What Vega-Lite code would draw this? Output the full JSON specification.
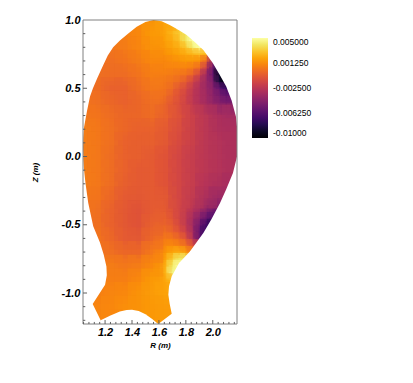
{"$schema":"https://vega.github.io/schema/vega-lite/v6.json","width":154,"height":304,"autosize":{"type":"none"},"padding":{"left":83,"top":20,"right":176,"bottom":59},"background":"white","config":{"view":{"stroke":null}},
"datasets":{
"coarse":[
{"r":1.45,"z":1.0,"v":0.0011},{"r":1.55,"z":1.0,"v":0.0014},{"r":1.65,"z":1.0,"v":0.002},
{"r":1.35,"z":0.9,"v":0.0008},{"r":1.45,"z":0.9,"v":0.0011},{"r":1.55,"z":0.9,"v":0.0016},
{"r":1.25,"z":0.8,"v":0.0005},{"r":1.35,"z":0.8,"v":0.0007},{"r":1.45,"z":0.8,"v":0.001},{"r":1.55,"z":0.8,"v":0.0014},
{"r":1.15,"z":0.7,"v":0.0004},{"r":1.25,"z":0.7,"v":0.0002},{"r":1.35,"z":0.7,"v":0.0004},{"r":1.45,"z":0.7,"v":0.0007},{"r":1.55,"z":0.7,"v":0.0011},
{"r":1.15,"z":0.6,"v":0.0002},{"r":1.25,"z":0.6,"v":0.0001},{"r":1.35,"z":0.6,"v":0.0001},{"r":1.45,"z":0.6,"v":0.0004},{"r":1.55,"z":0.6,"v":0.0008},
{"r":1.05,"z":0.5,"v":0.0002},{"r":1.15,"z":0.5,"v":0.0001},{"r":1.25,"z":0.5,"v":-0.0003},{"r":1.35,"z":0.5,"v":-0.0003},{"r":1.45,"z":0.5,"v":0.0001},{"r":1.55,"z":0.5,"v":0.0005},
{"r":1.05,"z":0.4,"v":0.0004},{"r":1.15,"z":0.4,"v":0.0002},{"r":1.25,"z":0.4,"v":-0.0001},{"r":1.35,"z":0.4,"v":-0.0003},{"r":1.45,"z":0.4,"v":-0.0001},{"r":1.55,"z":0.4,"v":0.0002},
{"r":1.05,"z":0.3,"v":0.0005},{"r":1.15,"z":0.3,"v":0.0004},{"r":1.25,"z":0.3,"v":0.0001},{"r":1.35,"z":0.3,"v":-0.0001},{"r":1.45,"z":0.3,"v":-0.0001},{"r":1.55,"z":0.3,"v":0.0001},{"r":1.65,"z":0.3,"v":-0.0003},{"r":1.75,"z":0.3,"v":-0.001},{"r":1.85,"z":0.3,"v":-0.0018},{"r":1.95,"z":0.3,"v":-0.0025},{"r":2.05,"z":0.3,"v":-0.0031},{"r":2.15,"z":0.3,"v":-0.0034},
{"r":1.05,"z":0.2,"v":0.0007},{"r":1.15,"z":0.2,"v":0.0005},{"r":1.25,"z":0.2,"v":0.0002},{"r":1.35,"z":0.2,"v":-0.0001},{"r":1.45,"z":0.2,"v":-0.0003},{"r":1.55,"z":0.2,"v":-0.0003},{"r":1.65,"z":0.2,"v":-0.0006},{"r":1.75,"z":0.2,"v":-0.0012},{"r":1.85,"z":0.2,"v":-0.0019},{"r":1.95,"z":0.2,"v":-0.0025},{"r":2.05,"z":0.2,"v":-0.003},{"r":2.15,"z":0.2,"v":-0.0031},
{"r":1.05,"z":0.1,"v":0.0007},{"r":1.15,"z":0.1,"v":0.0005},{"r":1.25,"z":0.1,"v":0.0002},{"r":1.35,"z":0.1,"v":-0.0003},{"r":1.45,"z":0.1,"v":-0.0004},{"r":1.55,"z":0.1,"v":-0.0004},{"r":1.65,"z":0.1,"v":-0.0007},{"r":1.75,"z":0.1,"v":-0.0013},{"r":1.85,"z":0.1,"v":-0.0019},{"r":1.95,"z":0.1,"v":-0.0025},{"r":2.05,"z":0.1,"v":-0.0028},{"r":2.15,"z":0.1,"v":-0.003},
{"r":1.05,"z":0.0,"v":0.0007},{"r":1.15,"z":0.0,"v":0.0005},{"r":1.25,"z":0.0,"v":0.0001},{"r":1.35,"z":0.0,"v":-0.0003},{"r":1.45,"z":0.0,"v":-0.0004},{"r":1.55,"z":0.0,"v":-0.0006},{"r":1.65,"z":0.0,"v":-0.0009},{"r":1.75,"z":0.0,"v":-0.0015},{"r":1.85,"z":0.0,"v":-0.0021},{"r":1.95,"z":0.0,"v":-0.0025},{"r":2.05,"z":0.0,"v":-0.0028},{"r":2.15,"z":0.0,"v":-0.003},
{"r":1.05,"z":-0.1,"v":0.0007},{"r":1.15,"z":-0.1,"v":0.0005},{"r":1.25,"z":-0.1,"v":0.0001},{"r":1.35,"z":-0.1,"v":-0.0003},{"r":1.45,"z":-0.1,"v":-0.0006},{"r":1.55,"z":-0.1,"v":-0.0006},{"r":1.65,"z":-0.1,"v":-0.0009},{"r":1.75,"z":-0.1,"v":-0.0015},{"r":1.85,"z":-0.1,"v":-0.0021},{"r":1.95,"z":-0.1,"v":-0.0025},{"r":2.05,"z":-0.1,"v":-0.0028},{"r":2.15,"z":-0.1,"v":-0.003},
{"r":1.05,"z":-0.2,"v":0.0007},{"r":1.15,"z":-0.2,"v":0.0005},{"r":1.25,"z":-0.2,"v":0.0001},{"r":1.35,"z":-0.2,"v":-0.0004},{"r":1.45,"z":-0.2,"v":-0.0006},{"r":1.55,"z":-0.2,"v":-0.0006},{"r":1.65,"z":-0.2,"v":-0.0009},{"r":1.75,"z":-0.2,"v":-0.0015},{"r":1.85,"z":-0.2,"v":-0.0021},{"r":1.95,"z":-0.2,"v":-0.0027},{"r":2.05,"z":-0.2,"v":-0.003},{"r":2.15,"z":-0.2,"v":-0.0033},
{"r":1.05,"z":-0.3,"v":0.0005},{"r":1.15,"z":-0.3,"v":0.0004},{"r":1.25,"z":-0.3,"v":-0.0001},{"r":1.35,"z":-0.3,"v":-0.0006},{"r":1.45,"z":-0.3,"v":-0.0007},{"r":1.55,"z":-0.3,"v":-0.0006},{"r":1.65,"z":-0.3,"v":-0.0007},{"r":1.75,"z":-0.3,"v":-0.0015},{"r":1.85,"z":-0.3,"v":-0.0022},{"r":1.95,"z":-0.3,"v":-0.003},{"r":2.05,"z":-0.3,"v":-0.0036},
{"r":1.05,"z":-0.4,"v":0.0005},{"r":1.15,"z":-0.4,"v":0.0002},{"r":1.25,"z":-0.4,"v":-0.0003},{"r":1.35,"z":-0.4,"v":-0.0007},{"r":1.45,"z":-0.4,"v":-0.0009},{"r":1.55,"z":-0.4,"v":-0.0006},
{"r":1.15,"z":-0.5,"v":0.0002},{"r":1.25,"z":-0.5,"v":-0.0003},{"r":1.35,"z":-0.5,"v":-0.0007},{"r":1.45,"z":-0.5,"v":-0.0009},{"r":1.55,"z":-0.5,"v":-0.0004},
{"r":1.15,"z":-0.6,"v":0.0004},{"r":1.25,"z":-0.6,"v":-0.0001},{"r":1.35,"z":-0.6,"v":-0.0006},{"r":1.45,"z":-0.6,"v":-0.0007},{"r":1.55,"z":-0.6,"v":-0.0001},
{"r":1.15,"z":-0.7,"v":0.0005},{"r":1.25,"z":-0.7,"v":0.0002},{"r":1.35,"z":-0.7,"v":-0.0001},{"r":1.45,"z":-0.7,"v":-0.0001},{"r":1.55,"z":-0.7,"v":0.0005},
{"r":1.25,"z":-0.8,"v":0.0007},{"r":1.35,"z":-0.8,"v":0.0005},{"r":1.45,"z":-0.8,"v":0.0007},{"r":1.55,"z":-0.8,"v":0.0011},
{"r":1.25,"z":-0.9,"v":0.0008},{"r":1.35,"z":-0.9,"v":0.0008},{"r":1.45,"z":-0.9,"v":0.0011},{"r":1.55,"z":-0.9,"v":0.0016},
{"r":1.15,"z":-1.0,"v":0.0008},{"r":1.25,"z":-1.0,"v":0.001},{"r":1.35,"z":-1.0,"v":0.0011},{"r":1.45,"z":-1.0,"v":0.0014},{"r":1.55,"z":-1.0,"v":0.0017},{"r":1.65,"z":-1.0,"v":0.0019},
{"r":1.15,"z":-1.1,"v":0.001},{"r":1.25,"z":-1.1,"v":0.0011},{"r":1.35,"z":-1.1,"v":0.0013},{"r":1.45,"z":-1.1,"v":0.0014},{"r":1.55,"z":-1.1,"v":0.0016},{"r":1.65,"z":-1.1,"v":0.0017},
{"r":1.15,"z":-1.2,"v":0.001},{"r":1.25,"z":-1.2,"v":0.0011},{"r":1.55,"z":-1.2,"v":0.0016},{"r":1.65,"z":-1.2,"v":0.0017}
],
"fine":[
{"r":1.6,"z":0.95,"v":0.0017},{"r":1.65,"z":0.95,"v":0.002},{"r":1.7,"z":0.95,"v":0.0023},
{"r":1.6,"z":0.9,"v":0.0017},{"r":1.65,"z":0.9,"v":0.002},{"r":1.7,"z":0.9,"v":0.0025},{"r":1.75,"z":0.9,"v":0.0031},{"r":1.8,"z":0.9,"v":0.004},
{"r":1.6,"z":0.85,"v":0.0016},{"r":1.65,"z":0.85,"v":0.0019},{"r":1.7,"z":0.85,"v":0.0022},{"r":1.75,"z":0.85,"v":0.0028},{"r":1.8,"z":0.85,"v":0.004},{"r":1.85,"z":0.85,"v":0.005},{"r":1.9,"z":0.85,"v":0.005},
{"r":1.6,"z":0.8,"v":0.0014},{"r":1.65,"z":0.8,"v":0.0017},{"r":1.7,"z":0.8,"v":0.002},{"r":1.75,"z":0.8,"v":0.0023},{"r":1.8,"z":0.8,"v":0.003},{"r":1.85,"z":0.8,"v":0.0042},{"r":1.9,"z":0.8,"v":0.005},{"r":1.95,"z":0.8,"v":0.005},
{"r":1.6,"z":0.75,"v":0.0013},{"r":1.65,"z":0.75,"v":0.0014},{"r":1.7,"z":0.75,"v":0.0016},{"r":1.75,"z":0.75,"v":0.0019},{"r":1.8,"z":0.75,"v":0.0022},{"r":1.85,"z":0.75,"v":0.0025},{"r":1.9,"z":0.75,"v":0.0028},{"r":1.95,"z":0.75,"v":0.0025},{"r":2.0,"z":0.75,"v":-0.001},
{"r":1.6,"z":0.7,"v":0.0011},{"r":1.65,"z":0.7,"v":0.0011},{"r":1.7,"z":0.7,"v":0.0013},{"r":1.75,"z":0.7,"v":0.0014},{"r":1.8,"z":0.7,"v":0.0016},{"r":1.85,"z":0.7,"v":0.0016},{"r":1.9,"z":0.7,"v":0.0014},{"r":1.95,"z":0.7,"v":0.0002},{"r":2.0,"z":0.7,"v":-0.0033},{"r":2.05,"z":0.7,"v":-0.0055},
{"r":1.6,"z":0.65,"v":0.001},{"r":1.65,"z":0.65,"v":0.001},{"r":1.7,"z":0.65,"v":0.001},{"r":1.75,"z":0.65,"v":0.001},{"r":1.8,"z":0.65,"v":0.001},{"r":1.85,"z":0.65,"v":0.0008},{"r":1.9,"z":0.65,"v":0.0002},{"r":1.95,"z":0.65,"v":-0.0016},{"r":2.0,"z":0.65,"v":-0.0052},{"r":2.05,"z":0.65,"v":-0.0082},
{"r":1.6,"z":0.6,"v":0.0008},{"r":1.65,"z":0.6,"v":0.0008},{"r":1.7,"z":0.6,"v":0.0007},{"r":1.75,"z":0.6,"v":0.0005},{"r":1.8,"z":0.6,"v":0.0004},{"r":1.85,"z":0.6,"v":-0.0001},{"r":1.9,"z":0.6,"v":-0.0013},{"r":1.95,"z":0.6,"v":-0.0033},{"r":2.0,"z":0.6,"v":-0.0055},{"r":2.05,"z":0.6,"v":-0.0091},{"r":2.1,"z":0.6,"v":-0.01},
{"r":1.6,"z":0.55,"v":0.0007},{"r":1.65,"z":0.55,"v":0.0005},{"r":1.7,"z":0.55,"v":0.0004},{"r":1.75,"z":0.55,"v":0.0001},{"r":1.8,"z":0.55,"v":-0.0004},{"r":1.85,"z":0.55,"v":-0.0013},{"r":1.9,"z":0.55,"v":-0.0025},{"r":1.95,"z":0.55,"v":-0.0036},{"r":2.0,"z":0.55,"v":-0.0048},{"r":2.05,"z":0.55,"v":-0.0085},{"r":2.1,"z":0.55,"v":-0.01},
{"r":1.6,"z":0.5,"v":0.0005},{"r":1.65,"z":0.5,"v":0.0004},{"r":1.7,"z":0.5,"v":0.0001},{"r":1.75,"z":0.5,"v":-0.0006},{"r":1.8,"z":0.5,"v":-0.0012},{"r":1.85,"z":0.5,"v":-0.0021},{"r":1.9,"z":0.5,"v":-0.0029},{"r":1.95,"z":0.5,"v":-0.0036},{"r":2.0,"z":0.5,"v":-0.0044},{"r":2.05,"z":0.5,"v":-0.0058},{"r":2.1,"z":0.5,"v":-0.0073},{"r":2.15,"z":0.5,"v":-0.0073},
{"r":1.6,"z":0.45,"v":0.0004},{"r":1.65,"z":0.45,"v":0.0002},{"r":1.7,"z":0.45,"v":-0.0003},{"r":1.75,"z":0.45,"v":-0.0009},{"r":1.8,"z":0.45,"v":-0.0015},{"r":1.85,"z":0.45,"v":-0.0023},{"r":1.9,"z":0.45,"v":-0.0029},{"r":1.95,"z":0.45,"v":-0.0034},{"r":2.0,"z":0.45,"v":-0.0042},{"r":2.05,"z":0.45,"v":-0.005},{"r":2.1,"z":0.45,"v":-0.0058},{"r":2.15,"z":0.45,"v":-0.0058},
{"r":1.6,"z":0.4,"v":0.0002},{"r":1.65,"z":0.4,"v":-0.0001},{"r":1.7,"z":0.4,"v":-0.0006},{"r":1.75,"z":0.4,"v":-0.001},{"r":1.8,"z":0.4,"v":-0.0016},{"r":1.85,"z":0.4,"v":-0.0023},{"r":1.9,"z":0.4,"v":-0.0029},{"r":1.95,"z":0.4,"v":-0.0034},{"r":2.0,"z":0.4,"v":-0.004},{"r":2.05,"z":0.4,"v":-0.0046},{"r":2.1,"z":0.4,"v":-0.0051},{"r":2.15,"z":0.4,"v":-0.0051},
{"r":1.6,"z":0.35,"v":0.0001},{"r":1.65,"z":0.35,"v":-0.0003},{"r":1.7,"z":0.35,"v":-0.0007},{"r":1.75,"z":0.35,"v":-0.0012},{"r":1.8,"z":0.35,"v":-0.0016},{"r":1.85,"z":0.35,"v":-0.0022},{"r":1.9,"z":0.35,"v":-0.0028},{"r":1.95,"z":0.35,"v":-0.0032},{"r":2.0,"z":0.35,"v":-0.0037},{"r":2.05,"z":0.35,"v":-0.0041},{"r":2.1,"z":0.35,"v":-0.0043},{"r":2.15,"z":0.35,"v":-0.0043},
{"r":1.6,"z":-0.35,"v":-0.0006},{"r":1.65,"z":-0.35,"v":-0.0007},{"r":1.7,"z":-0.35,"v":-0.001},{"r":1.75,"z":-0.35,"v":-0.0015},{"r":1.8,"z":-0.35,"v":-0.0019},{"r":1.85,"z":-0.35,"v":-0.0024},{"r":1.9,"z":-0.35,"v":-0.003},{"r":1.95,"z":-0.35,"v":-0.0036},{"r":2.0,"z":-0.35,"v":-0.0043},{"r":2.05,"z":-0.35,"v":-0.0048},
{"r":1.6,"z":-0.4,"v":-0.0004},{"r":1.65,"z":-0.4,"v":-0.0006},{"r":1.7,"z":-0.4,"v":-0.001},{"r":1.75,"z":-0.4,"v":-0.0015},{"r":1.8,"z":-0.4,"v":-0.0021},{"r":1.85,"z":-0.4,"v":-0.0027},{"r":1.9,"z":-0.4,"v":-0.0034},{"r":1.95,"z":-0.4,"v":-0.0043},{"r":2.0,"z":-0.4,"v":-0.0052},{"r":2.05,"z":-0.4,"v":-0.0058},
{"r":1.6,"z":-0.45,"v":-0.0003},{"r":1.65,"z":-0.45,"v":-0.0004},{"r":1.7,"z":-0.45,"v":-0.0009},{"r":1.75,"z":-0.45,"v":-0.0015},{"r":1.8,"z":-0.45,"v":-0.0022},{"r":1.85,"z":-0.45,"v":-0.0031},{"r":1.9,"z":-0.45,"v":-0.0042},{"r":1.95,"z":-0.45,"v":-0.0054},{"r":2.0,"z":-0.45,"v":-0.0063},
{"r":1.6,"z":-0.5,"v":-0.0001},{"r":1.65,"z":-0.5,"v":-0.0003},{"r":1.7,"z":-0.5,"v":-0.0006},{"r":1.75,"z":-0.5,"v":-0.0013},{"r":1.8,"z":-0.5,"v":-0.0022},{"r":1.85,"z":-0.5,"v":-0.0034},{"r":1.9,"z":-0.5,"v":-0.0049},{"r":1.95,"z":-0.5,"v":-0.0067},{"r":2.0,"z":-0.5,"v":-0.0078},
{"r":1.6,"z":-0.55,"v":0.0001},{"r":1.65,"z":-0.55,"v":0.0001},{"r":1.7,"z":-0.55,"v":-0.0003},{"r":1.75,"z":-0.55,"v":-0.0009},{"r":1.8,"z":-0.55,"v":-0.0018},{"r":1.85,"z":-0.55,"v":-0.0031},{"r":1.9,"z":-0.55,"v":-0.0055},{"r":1.95,"z":-0.55,"v":-0.0073},
{"r":1.6,"z":-0.6,"v":0.0004},{"r":1.65,"z":-0.6,"v":0.0005},{"r":1.7,"z":-0.6,"v":0.0004},{"r":1.75,"z":-0.6,"v":-0.0001},{"r":1.8,"z":-0.6,"v":-0.001},{"r":1.85,"z":-0.6,"v":-0.0028},{"r":1.9,"z":-0.6,"v":-0.0055},{"r":1.95,"z":-0.6,"v":-0.007},
{"r":1.6,"z":-0.65,"v":0.0008},{"r":1.65,"z":-0.65,"v":0.001},{"r":1.7,"z":-0.65,"v":0.0011},{"r":1.75,"z":-0.65,"v":0.0008},{"r":1.8,"z":-0.65,"v":0.0002},{"r":1.85,"z":-0.65,"v":-0.001},{"r":1.9,"z":-0.65,"v":-0.0025},
{"r":1.6,"z":-0.7,"v":0.0011},{"r":1.65,"z":-0.7,"v":0.0014},{"r":1.7,"z":-0.7,"v":0.0019},{"r":1.75,"z":-0.7,"v":0.0022},{"r":1.8,"z":-0.7,"v":0.0017},{"r":1.85,"z":-0.7,"v":0.0005},
{"r":1.6,"z":-0.75,"v":0.0014},{"r":1.65,"z":-0.75,"v":0.0019},{"r":1.7,"z":-0.75,"v":0.003},{"r":1.75,"z":-0.75,"v":0.004},{"r":1.8,"z":-0.75,"v":0.004},
{"r":1.6,"z":-0.8,"v":0.0016},{"r":1.65,"z":-0.8,"v":0.0023},{"r":1.7,"z":-0.8,"v":0.004},{"r":1.75,"z":-0.8,"v":0.005},
{"r":1.6,"z":-0.85,"v":0.0017},{"r":1.65,"z":-0.85,"v":0.0025},{"r":1.7,"z":-0.85,"v":0.0045},
{"r":1.6,"z":-0.9,"v":0.0017},{"r":1.65,"z":-0.9,"v":0.0022},{"r":1.7,"z":-0.9,"v":0.0028},
{"r":1.6,"z":-0.95,"v":0.0019},{"r":1.65,"z":-0.95,"v":0.002},{"r":1.7,"z":-0.95,"v":0.0023}
],
"left":[{"r":1.56,"z":1.0},{"r":1.5,"z":0.985},{"r":1.435,"z":0.95},{"r":1.37,"z":0.9},{"r":1.31,"z":0.85},{"r":1.26,"z":0.8},{"r":1.22,"z":0.74},{"r":1.185,"z":0.667},{"r":1.14,"z":0.57},{"r":1.11,"z":0.5},{"r":1.088,"z":0.44},{"r":1.065,"z":0.33},{"r":1.044,"z":0.217},{"r":1.038,"z":0.14},{"r":1.036,"z":0.07},{"r":1.038,"z":-0.02},{"r":1.044,"z":-0.1},{"r":1.055,"z":-0.2},{"r":1.075,"z":-0.34},{"r":1.112,"z":-0.51},{"r":1.162,"z":-0.63},{"r":1.19,"z":-0.72},{"r":1.21,"z":-0.805},{"r":1.213,"z":-0.87},{"r":1.2,"z":-0.94},{"r":1.108,"z":-1.08},{"r":1.167,"z":-1.2},{"r":1.182,"z":-1.227}],
"right":[{"r":1.56,"z":1.0},{"r":1.62,"z":0.99},{"r":1.68,"z":0.964},{"r":1.74,"z":0.93},{"r":1.806,"z":0.89},{"r":1.87,"z":0.835},{"r":1.93,"z":0.78},{"r":2.0,"z":0.685},{"r":2.05,"z":0.6},{"r":2.1,"z":0.512},{"r":2.14,"z":0.41},{"r":2.172,"z":0.293},{"r":2.182,"z":0.2},{"r":2.185,"z":0.1},{"r":2.18,"z":0.0},{"r":2.15,"z":-0.12},{"r":2.1,"z":-0.24},{"r":2.054,"z":-0.34},{"r":1.99,"z":-0.46},{"r":1.93,"z":-0.56},{"r":1.83,"z":-0.695},{"r":1.75,"z":-0.78},{"r":1.695,"z":-0.878},{"r":1.675,"z":-0.95},{"r":1.67,"z":-1.012},{"r":1.68,"z":-1.08},{"r":1.695,"z":-1.152},{"r":1.595,"z":-1.227}],
"notch":[{"r":1.167,"z":-1.2},{"r":1.24,"z":-1.165},{"r":1.31,"z":-1.135},{"r":1.36,"z":-1.124},{"r":1.4,"z":-1.122},{"r":1.45,"z":-1.132},{"r":1.5,"z":-1.155},{"r":1.55,"z":-1.19},{"r":1.595,"z":-1.227}],
"frame":[{"a":1.036,"b":2.18,"c":-1.227,"d":1.0}],
"xt":[{"r":1.04,"t":-1.212},{"r":1.08,"t":-1.212},{"r":1.12,"t":-1.212},{"r":1.16,"t":-1.212},{"r":1.2,"t":-1.198},{"r":1.24,"t":-1.212},{"r":1.28,"t":-1.212},{"r":1.32,"t":-1.212},{"r":1.36,"t":-1.212},{"r":1.4,"t":-1.198},{"r":1.44,"t":-1.212},{"r":1.48,"t":-1.212},{"r":1.52,"t":-1.212},{"r":1.56,"t":-1.212},{"r":1.6,"t":-1.198},{"r":1.64,"t":-1.212},{"r":1.68,"t":-1.212},{"r":1.72,"t":-1.212},{"r":1.76,"t":-1.212},{"r":1.8,"t":-1.198},{"r":1.84,"t":-1.212},{"r":1.88,"t":-1.212},{"r":1.92,"t":-1.212},{"r":1.96,"t":-1.212},{"r":2.0,"t":-1.198},{"r":2.04,"t":-1.212},{"r":2.08,"t":-1.212},{"r":2.12,"t":-1.212},{"r":2.16,"t":-1.212}],
"yt":[{"z":-1.2,"t":1.053},{"z":-1.1,"t":1.053},{"z":-1.0,"t":1.066},{"z":-0.9,"t":1.053},{"z":-0.8,"t":1.053},{"z":-0.7,"t":1.053},{"z":-0.6,"t":1.053},{"z":-0.5,"t":1.066},{"z":-0.4,"t":1.053},{"z":-0.3,"t":1.053},{"z":-0.2,"t":1.053},{"z":-0.1,"t":1.053},{"z":0.0,"t":1.066},{"z":0.1,"t":1.053},{"z":0.2,"t":1.053},{"z":0.3,"t":1.053},{"z":0.4,"t":1.053},{"z":0.5,"t":1.066},{"z":0.6,"t":1.053},{"z":0.7,"t":1.053},{"z":0.8,"t":1.053},{"z":0.9,"t":1.053}]
},
"layer":[
{"data":{"name":"coarse"},"mark":{"type":"rect","width":14.5,"height":14.5,"clip":true},
"encoding":{
"x":{"field":"r","type":"quantitative","scale":{"domain":[1.036,2.18],"nice":false,"zero":false},
"axis":{"title":"R (m)","zindex":1,"grid":false,"domain":false,"ticks":false,"tickSize":0,"tickCount":10,"values":[1.2,1.4,1.6,1.8,2.0],"format":".1f","labelOverlap":false,"labelFlush":false,"labelPadding":2,"labelFont":"Liberation Sans","labelFontStyle":"italic","labelFontWeight":"bold","labelFontSize":11,"labelColor":"#000","labelAngle":0,
"titleFont":"Liberation Sans","titleFontStyle":"italic","titleFontWeight":"bold","titleFontSize":8,"titleColor":"#000","titlePadding":4}},
"y":{"field":"z","type":"quantitative","scale":{"domain":[-1.227,1.0],"nice":false,"zero":false},
"axis":{"title":"Z (m)","zindex":1,"grid":false,"domain":false,"ticks":false,"tickSize":0,"tickCount":10,"values":[-1.0,-0.5,0.0,0.5,1.0],"labelExpr":"replace(format(datum.value,'.1f'),'\u2212','-')","labelOverlap":false,"labelFlush":false,"labelPadding":3,"labelFont":"Liberation Sans","labelFontStyle":"italic","labelFontWeight":"bold","labelFontSize":11,"labelColor":"#000",
"titleFont":"Liberation Sans","titleFontStyle":"italic","titleFontWeight":"bold","titleFontSize":8,"titleColor":"#000","titlePadding":22}},
"color":{"field":"v","type":"quantitative","scale":{"scheme":"inferno","domain":[-0.01,0.005]},
"legend":{"title":null,"orient":"none","legendX":169,"legendY":18,"gradientLength":100,"gradientThickness":16,"gradientOpacity":1,"values":[-0.01,-0.00625,-0.0025,0.00125,0.005],
"labelExpr":"datum.value<-0.0099?'-0.01000':replace(format(datum.value,'.6f'),'\u2212','-')","labelFont":"Liberation Sans","labelFontSize":8.5,"labelColor":"#000","labelOpacity":1,"labelOffset":5,"labelOverlap":false,"labelBaseline":"middle","tickCount":5}}
}},
{"data":{"name":"fine"},"mark":{"type":"rect","width":7.5,"height":7.5,"clip":true},
"encoding":{"x":{"field":"r","type":"quantitative"},"y":{"field":"z","type":"quantitative"},"color":{"field":"v","type":"quantitative"}}},
{"data":{"name":"fine"},"mark":{"type":"rect","width":12,"height":12,"clip":true,"fillOpacity":0.45},
"encoding":{"x":{"field":"r","type":"quantitative"},"y":{"field":"z","type":"quantitative"},"color":{"field":"v","type":"quantitative"}}},
{"data":{"name":"coarse"},"mark":{"type":"rect","width":22,"height":22,"clip":true,"fillOpacity":0.45},
"encoding":{"x":{"field":"r","type":"quantitative"},"y":{"field":"z","type":"quantitative"},"color":{"field":"v","type":"quantitative"}}},
{"data":{"name":"left"},"mark":{"type":"area","orient":"horizontal","fill":"white","clip":true},
"encoding":{"x":{"field":"r","type":"quantitative"},"x2":{"datum":1.0},"y":{"field":"z","type":"quantitative"}}},
{"data":{"name":"right"},"mark":{"type":"area","orient":"horizontal","fill":"white","clip":true},
"encoding":{"x":{"field":"r","type":"quantitative"},"x2":{"datum":2.3},"y":{"field":"z","type":"quantitative"}}},
{"data":{"name":"notch"},"mark":{"type":"area","fill":"white","clip":true},
"encoding":{"x":{"field":"r","type":"quantitative"},"y":{"field":"z","type":"quantitative"},"y2":{"datum":-1.4}}},
{"data":{"name":"frame"},"mark":{"type":"rect","fillOpacity":0,"stroke":"#808080","strokeWidth":1},
"encoding":{"x":{"field":"a","type":"quantitative"},"x2":{"field":"b"},"y":{"field":"c","type":"quantitative"},"y2":{"field":"d"}}},
{"data":{"name":"xt"},"mark":{"type":"rule","stroke":"#606060","strokeWidth":1},
"encoding":{"x":{"field":"r","type":"quantitative"},"y":{"field":"t","type":"quantitative"},"y2":{"datum":-1.227}}},
{"data":{"name":"yt"},"mark":{"type":"rule","stroke":"#606060","strokeWidth":1},
"encoding":{"y":{"field":"z","type":"quantitative"},"x":{"field":"t","type":"quantitative"},"x2":{"datum":1.036}}}
]}
